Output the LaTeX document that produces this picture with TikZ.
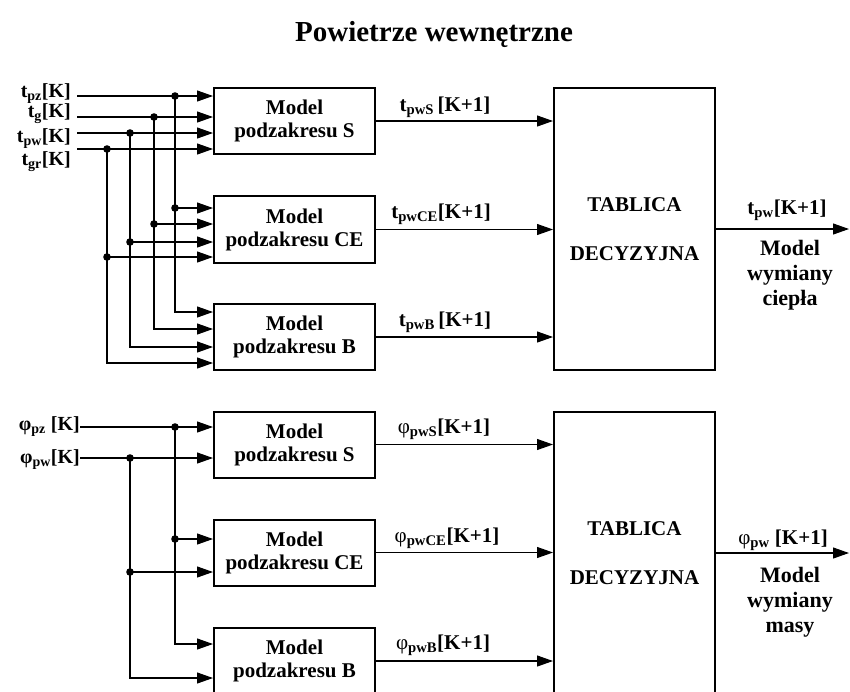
\documentclass[tikz,border=0pt]{standalone}
\usepackage{fontspec}
\setmainfont{Liberation Serif}
\usetikzlibrary{arrows.meta}
\tikzset{
  model/.style  = {draw, line width=2pt, minimum width=161pt, minimum height=66pt,
                   align=center, inner sep=0pt, font=\fontsize{21}{23}\selectfont\bfseries},
  tabl/.style   = {draw, line width=2pt, minimum width=161pt, minimum height=282pt,
                   align=center, inner sep=0pt, font=\fontsize{21}{24}\selectfont\bfseries},
  inlbl/.style  = {inner sep=0pt, anchor=base east, font=\fontsize{20}{22}\selectfont\bfseries},
  outlbl/.style = {inner sep=0pt, anchor=base, font=\fontsize{21}{23}\selectfont\bfseries},
  side/.style   = {inner sep=0pt, anchor=north, align=center, font=\fontsize{22}{25}\selectfont\bfseries},
  arr/.style    = {-{Triangle[length=16pt,width=11pt]}, line width=1.1pt},
  wire/.style   = {line width=1.1pt}
}

\begin{document}
\begin{tikzpicture}[x=1pt, y=-1pt]
    \useasboundingbox (0,0) rectangle (850,691);
    \node[inner sep=0pt, anchor=base, font=\fontsize{29}{32}\selectfont\bfseries] (title)
        at (434,41) {Powietrze wewnętrzne};

    % temperatura
    \node[model] (mS)  at (294.5,121)   {Model\\podzakresu S};
    \node[model, minimum height=67pt] (mCE) at (294.5,229.5) {Model\\podzakresu CE};
    \node[model] (mB)  at (294.5,337)   {Model\\podzakresu B};
    \node[tabl]  (tab) at (634.5,229)   {TABLICA\\[25pt]DECYZYJNA};

    \node[inlbl] (lpz) at (71,97)  {t\textsubscript{pz}[K]};
    \node[inlbl] (lg)  at (71,117) {t\textsubscript{g}[K]};
    \node[inlbl] (lpw) at (71,142) {t\textsubscript{pw}[K]};
    \node[inlbl] (lgr) at (71,165) {t\textsubscript{gr}[K]};

    \foreach \n/\xb/\ya/\yb/\yc in {1/175/96/208/312, 2/154/117/224/329,
                                    3/130/133/242/347, 4/107/149/257/363} {
        \coordinate (tin\n) at (77,\ya);
        \coordinate (tjs\n) at (\xb,\ya);
        \coordinate (tjc\n) at (\xb,\yb);
        \coordinate (tjb\n) at (\xb,\yc);
        \draw[arr] (tin\n) -- (tin\n -| mS.west);
        \draw[arr] (tjs\n) -- (tjb\n) -- (tjb\n -| mB.west);
        \draw[arr] (tjc\n) -- (tjc\n -| mCE.west);
        \fill (tjs\n) circle (3.8pt) (tjc\n) circle (3.8pt);
    }

    \draw[arr] (mS.east)  -- (mS.east -| tab.west);
    \draw[arr] (mCE.east) -- (mCE.east -| tab.west);
    \draw[arr] (mB.east)  -- (mB.east -| tab.west);
    \node[outlbl] (oS)  at (445,111) {t\textsubscript{pwS}\,[K+1]};
    \node[outlbl] (oCE) at (441,218) {t\textsubscript{pwCE}[K+1]};
    \node[outlbl] (oB)  at (445,326) {t\textsubscript{pwB}\,[K+1]};

    \coordinate (tout) at (849,229);
    \draw[arr] (tab.east) -- (tout);
    \node[outlbl] (otpw) at (787,214) {t\textsubscript{pw}[K+1]};
    \node[side] (heat) at (790,240) {Model\\wymiany\\ciepła};

    % wilgotnosc
    \node[model] (wS)  at (294.5,444.5) {Model\\podzakresu S};
    \node[model] (wCE) at (294.5,552.5) {Model\\podzakresu CE};
    \node[model] (wB)  at (294.5,661)   {Model\\podzakresu B};
    \node[tabl]  (wtab) at (634.5,553)  {TABLICA\\[25pt]DECYZYJNA};

    \node[inlbl] (fpz) at (80,430) {φ\textsubscript{pz} [K]};
    \node[inlbl] (fpw) at (80,463) {φ\textsubscript{pw}[K]};

    \foreach \n/\xb/\ya/\yb/\yc in {1/175/427/539/644, 2/130/458/572/678} {
        \coordinate (pin\n) at (80,\ya);
        \coordinate (pjs\n) at (\xb,\ya);
        \coordinate (pjc\n) at (\xb,\yb);
        \coordinate (pjb\n) at (\xb,\yc);
        \draw[arr] (pin\n) -- (pin\n -| wS.west);
        \draw[arr] (pjs\n) -- (pjb\n) -- (pjb\n -| wB.west);
        \draw[arr] (pjc\n) -- (pjc\n -| wCE.west);
        \fill (pjs\n) circle (3.8pt) (pjc\n) circle (3.8pt);
    }

    \draw[arr] (wS.east)  -- (wS.east -| wtab.west);
    \draw[arr] (wCE.east) -- (wCE.east -| wtab.west);
    \draw[arr] (wB.east)  -- (wB.east -| wtab.west);
    \node[outlbl] (pS)  at (444,433) {{\mdseries φ}\textsubscript{pwS}[K+1]};
    \node[outlbl] (pCE) at (447,542) {{\mdseries φ}\textsubscript{pwCE}[K+1]};
    \node[outlbl] (pB)  at (443,649) {{\mdseries φ}\textsubscript{pwB}[K+1]};

    \coordinate (wout) at (849,553);
    \draw[arr] (wtab.east) -- (wout);
    \node[outlbl] (opw) at (783,544) {{\mdseries φ}\textsubscript{pw} [K+1]};
    \node[side] (mass) at (790,567) {Model\\wymiany\\masy};
\end{tikzpicture}
\end{document}
